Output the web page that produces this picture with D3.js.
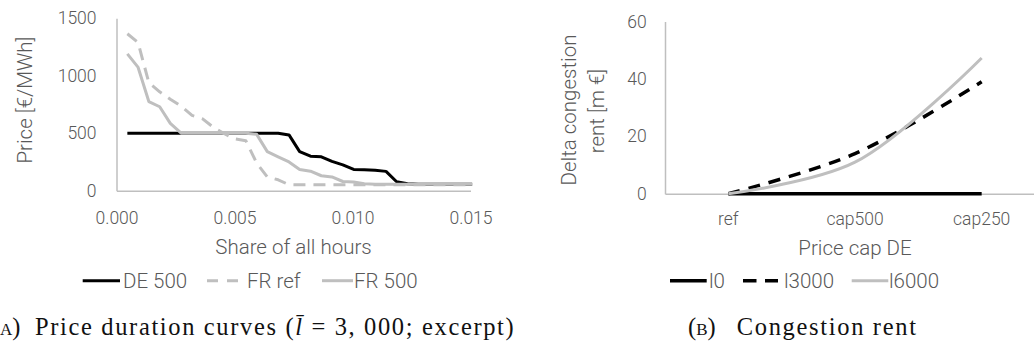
<!DOCTYPE html>
<html>
<head>
<meta charset="utf-8">
<script src="https://cdn.jsdelivr.net/npm/d3@7"></script>
<style>
  body { margin: 0; background: #fff; }
  svg { display: block; }
  .lbl { font-family: Roboto, "Open Sans", sans-serif; font-weight: 300; font-size: 17.5px; fill: #595959; }
  .ttl { font-family: Roboto, "Open Sans", sans-serif; font-weight: 300; font-size: 20.5px; fill: #595959; }
  .cap { font-family: "Liberation Serif", "DejaVu Serif", serif; font-size: 24.5px; fill: #111; }
</style>
</head>
<body>
<svg id="chart" width="1034" height="358"></svg>
<script>
// ---- data: panel A, price duration curves (share of hours vs price) ----
const shares = [0.00046, 0.00091, 0.00137, 0.00183, 0.00228, 0.00274, 0.00320, 0.00365, 0.00411, 0.00457,
                0.00502, 0.00548, 0.00594, 0.00639, 0.00685, 0.00731, 0.00776, 0.00822, 0.00868, 0.00913,
                0.00959, 0.01005, 0.01050, 0.01096, 0.01142, 0.01187, 0.01233, 0.01279, 0.01324, 0.01370,
                0.01416, 0.01461, 0.01507];
const de500 = [500, 500, 500, 500, 500, 500, 500, 500, 500, 500, 500, 500, 500, 500, 500,
               485, 340, 300, 295, 255, 225, 185, 183, 178, 168, 78, 60, 57, 57, 57, 57, 57, 57];
const frRef = [1365, 1290, 940, 860, 795, 735, 655, 625, 550, 495, 450, 435, 240, 120, 95,
               52, 52, 52, 52, 52, 52, 52, 52, 52, 52, 52, 52, 52, 52, 52, 52, 52, 52];
const fr500 = [1190, 1075, 775, 730, 585, 500, 500, 500, 500, 500, 500, 500, 490, 340, 295,
               250, 185, 170, 130, 120, 80, 75, 60, 57, 57, 57, 57, 57, 57, 57, 57, 57, 57];
const priceTicks = [0, 500, 1000, 1500];
const shareTicks = [0, 0.005, 0.010, 0.015];

// ---- data: panel B, congestion rent ----
const capCats = ['ref', 'cap500', 'cap250'];
const rentL0 = [0, 0, 0];
const rentL3000 = [0, 14, 39];
const rentL6000 = [0, 11, 47.3];
const rentTicks = [0, 20, 40, 60];

const svg = d3.select('#chart');
const grey = '#bfbfbf';

function styleAxis(g) {
  g.select('.domain').attr('stroke', grey).attr('stroke-width', 1.5);
  g.selectAll('.tick line').remove();
  g.selectAll('.tick text').attr('class', 'lbl').attr('fill', null);
  g.attr('font-family', null).attr('font-size', null);
}

/***** Panel A *****/
const xA = d3.scaleLinear().domain([0, 0.015]).range([116.5, 470.5]);
const yA = d3.scaleLinear().domain([0, 1500]).range([190.7, 18.2]);

svg.append('g')
  .attr('transform', `translate(0,${yA(0)})`)
  .call(d3.axisBottom(xA).tickValues(shareTicks).tickFormat(d3.format('.3f')).tickSize(0).tickSizeOuter(0).tickPadding(21))
  .call(styleAxis);

svg.append('g')
  .attr('transform', `translate(${xA(0)},0)`)
  .call(d3.axisLeft(yA).tickValues(priceTicks).tickFormat(d3.format('d')).tickSize(0).tickSizeOuter(0).tickPadding(20))
  .call(styleAxis);

const lineA = d3.line().x(d => xA(d[0])).y(d => yA(d[1]));
const seriesA = [
  { name: 'DE 500', values: de500, color: '#000', dash: null },
  { name: 'FR ref', values: frRef, color: grey, dash: '12,8' },
  { name: 'FR 500', values: fr500, color: grey, dash: null }
];
seriesA.forEach(s => {
  svg.append('path')
    .datum(shares.map((x, i) => [x, s.values[i]]))
    .attr('d', lineA)
    .attr('fill', 'none')
    .attr('stroke', s.color)
    .attr('stroke-width', 3)
    .attr('stroke-linejoin', 'round')
    .attr('stroke-dasharray', s.dash);
});

svg.append('text').attr('class', 'ttl')
  .attr('x', (xA.range()[0] + xA.range()[1]) / 2).attr('y', 254)
  .attr('text-anchor', 'middle').text('Share of all hours');

svg.append('text').attr('class', 'ttl')
  .attr('transform', 'translate(32,100) rotate(-90)')
  .attr('text-anchor', 'middle').text('Price [€/MWh]');

// legend A
const legA = [
  { x1: 82.7, x2: 120, tx: 123 },
  { x1: 207, x2: 238, tx: 247 },
  { x1: 322, x2: 353, tx: 354 }
];
seriesA.forEach((s, i) => {
  const p = legA[i];
  svg.append('line')
    .attr('x1', p.x1).attr('x2', p.x2).attr('y1', 280.7).attr('y2', 280.7)
    .attr('stroke', s.color).attr('stroke-width', 3)
    .attr('stroke-dasharray', s.dash ? '11,9' : null);
  svg.append('text').attr('class', 'ttl')
    .attr('x', p.tx).attr('y', 280.7).attr('dy', '0.35em').text(s.name);
});

/***** Panel B *****/
const xB = d3.scaleBand().domain(capCats).range([665, 1045]);
const yB = d3.scaleLinear().domain([0, 60]).range([193.8, 21.5]);

svg.append('g')
  .attr('transform', `translate(0,${yB(0)})`)
  .call(d3.axisBottom(xB).tickSize(0).tickSizeOuter(0).tickPadding(18.5))
  .call(styleAxis);

svg.append('g')
  .attr('transform', `translate(${xB.range()[0]},0)`)
  .call(d3.axisLeft(yB).tickValues(rentTicks).tickSize(0).tickSizeOuter(0).tickPadding(18.3))
  .call(styleAxis);

const lineB = d3.line()
  .x(d => xB(d[0]) + xB.bandwidth() / 2)
  .y(d => yB(d[1]))
  .curve(d3.curveCatmullRom);

const seriesB = [
  { name: 'l0', values: rentL0, color: '#000', dash: null, w: 3.5 },
  { name: 'l3000', values: rentL3000, color: '#000', dash: '12,9', w: 3.5 },
  { name: 'l6000', values: rentL6000, color: grey, dash: null, w: 3 }
];
seriesB.forEach(s => {
  svg.append('path')
    .datum(capCats.map((c, i) => [c, s.values[i]]))
    .attr('d', lineB)
    .attr('fill', 'none')
    .attr('stroke', s.color)
    .attr('stroke-width', s.w)
    .attr('stroke-dasharray', s.dash);
});

svg.append('text').attr('class', 'ttl')
  .attr('x', 855).attr('y', 255)
  .attr('text-anchor', 'middle').text('Price cap DE');

svg.append('text').attr('class', 'ttl')
  .attr('transform', 'translate(576,110) rotate(-90)')
  .attr('text-anchor', 'middle').text('Delta congestion');
svg.append('text').attr('class', 'ttl')
  .attr('transform', 'translate(603.5,111) rotate(-90)')
  .attr('text-anchor', 'middle').text('rent [m €]');

const legB = [
  { x1: 670, x2: 706.7, tx: 709 },
  { x1: 743, x2: 778, tx: 784 },
  { x1: 851.7, x2: 888.3, tx: 889 }
];
seriesB.forEach((s, i) => {
  const p = legB[i];
  svg.append('line')
    .attr('x1', p.x1).attr('x2', p.x2).attr('y1', 280.7).attr('y2', 280.7)
    .attr('stroke', s.color).attr('stroke-width', s.w)
    .attr('stroke-dasharray', s.dash ? '13.5,8.5' : null);
  svg.append('text').attr('class', 'ttl')
    .attr('x', p.tx).attr('y', 280.7).attr('dy', '0.35em').text(s.name);
});

/***** Captions *****/
// stretch a caption with letter-spacing so it spans the same width as in the figure
function fitWidth(sel, target) {
  const n = sel.text().length;
  const w = sel.node().getComputedTextLength();
  sel.attr('letter-spacing', ((target - w) / n) + 'px');
}

svg.append('text').attr('class', 'cap')
  .attr('x', 20.5).attr('y', 335).attr('text-anchor', 'end')
  .style('font-variant', 'small-caps').text('(a)');
const capA = svg.append('text').attr('class', 'cap').attr('x', 35).attr('y', 335);
capA.append('tspan').text('Price duration curves (');
capA.append('tspan').style('font-style', 'italic').text('l\u0304');
capA.append('tspan').text(' = 3, 000; excerpt)');
fitWidth(capA, 482);

svg.append('text').attr('class', 'cap')
  .attr('x', 688).attr('y', 335)
  .style('font-variant', 'small-caps').text('(b)');
const capB = svg.append('text').attr('class', 'cap')
  .attr('x', 736.7).attr('y', 335).text('Congestion rent');
fitWidth(capB, 181);
</script>
</body>
</html>
